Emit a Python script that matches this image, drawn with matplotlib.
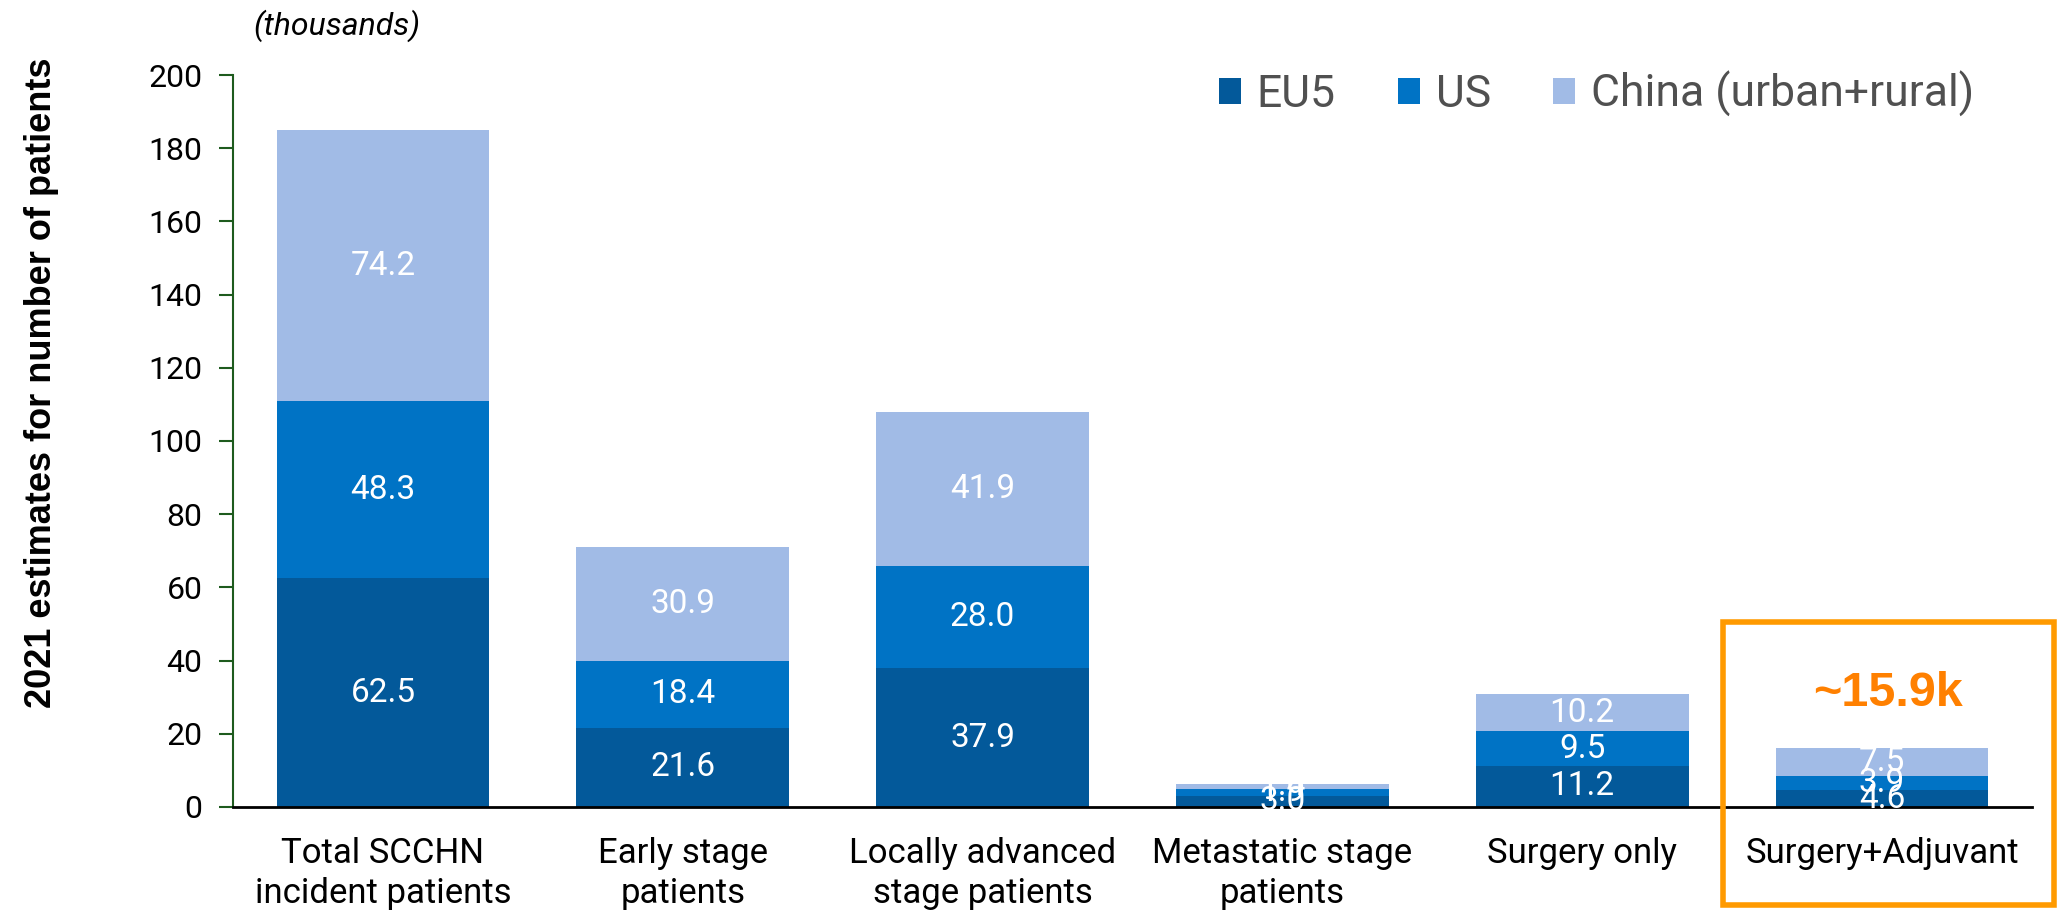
import matplotlib
matplotlib.use("Agg")
import matplotlib.pyplot as plt
from matplotlib.patches import Rectangle
import numpy as np

categories = ["Total SCCHN\nincident patients", "Early stage\npatients",
              "Locally advanced\nstage patients", "Metastatic stage\npatients",
              "Surgery only", "Surgery+Adjuvant"]
eu5 = [62.5, 21.6, 37.9, 3.0, 11.2, 4.6]
us = [48.3, 18.4, 28.0, 1.9, 9.5, 3.9]
china = [74.2, 30.9, 41.9, 1.4, 10.2, 7.5]
series_names = ["EU5", "US", "China (urban+rural)"]
yticks = [0, 20, 40, 60, 80, 100, 120, 140, 160, 180, 200]
callout = "~15.9k"

c_eu5 = "#03599a"
c_us = "#0073c5"
c_china = "#a1bbe6"
narrow = ["Liberation Sans Narrow", "Roboto"]

fig = plt.figure(figsize=(20.57, 9.18), dpi=100)
ax = fig.add_axes([0.1133, 0.121, 0.8745, 0.7973])

x = np.arange(len(categories))
w = 0.71
b1 = ax.bar(x, eu5, w, color=c_eu5, label=series_names[0])
b2 = ax.bar(x, us, w, bottom=eu5, color=c_us, label=series_names[1])
bottom2 = np.array(eu5) + np.array(us)
b3 = ax.bar(x, china, w, bottom=bottom2, color=c_china, label=series_names[2])

for bars, vals in [(b1, eu5), (b2, us), (b3, china)]:
    ax.bar_label(bars, labels=[f"{v:.1f}" for v in vals], label_type="center",
                 color="white", fontsize=24, family="Roboto")

ax.set_xlim(-0.5, 5.5)
ax.set_ylim(0, 200)
ax.set_yticks(yticks)
ax.set_yticklabels([str(t) for t in yticks], fontsize=23, family="Roboto")
ax.set_xticks(x)
ax.set_xticklabels(categories, fontsize=25, family=narrow, linespacing=1.25)
ax.tick_params(axis="x", length=0, pad=22)
ax.tick_params(axis="y", length=10, width=1.5, color="#1e5b1e", pad=12)

for s in ["top", "right"]:
    ax.spines[s].set_visible(False)
ax.spines["left"].set_color("#1e5b1e")
ax.spines["left"].set_linewidth(1.5)
ax.spines["bottom"].set_color("black")
ax.spines["bottom"].set_linewidth(2)

ax.set_ylabel("2021 estimates for number of patients", fontsize=26,
              fontweight="bold", family="Liberation Sans")
ax.yaxis.set_label_coords(-0.097, 0.58)

fig.text(0.123, 0.972, "(thousands)", fontsize=23, style="italic",
         family="Roboto", va="center", ha="left")

leg = ax.legend(loc="upper right", bbox_to_anchor=(0.99, 1.06), ncol=3,
                frameon=False, handlelength=0.5, handleheight=0.5,
                handletextpad=0.35, columnspacing=1.4,
                prop={"family": narrow, "size": 32})
for t in leg.get_texts():
    t.set_color("#505050")

# orange highlight box round the last bar
fig.patches.append(Rectangle((1723 / 2057, 1 - 905 / 918), 331 / 2057, 283 / 918,
                             transform=fig.transFigure, fill=False,
                             edgecolor="#ff9a00", linewidth=4, clip_on=False))
ax.text(5.02, 31.0, callout, color="#ff8000", fontsize=35, fontweight="bold",
        family="Liberation Sans", ha="center", va="center")

fig.savefig("out.png", dpi=100)
